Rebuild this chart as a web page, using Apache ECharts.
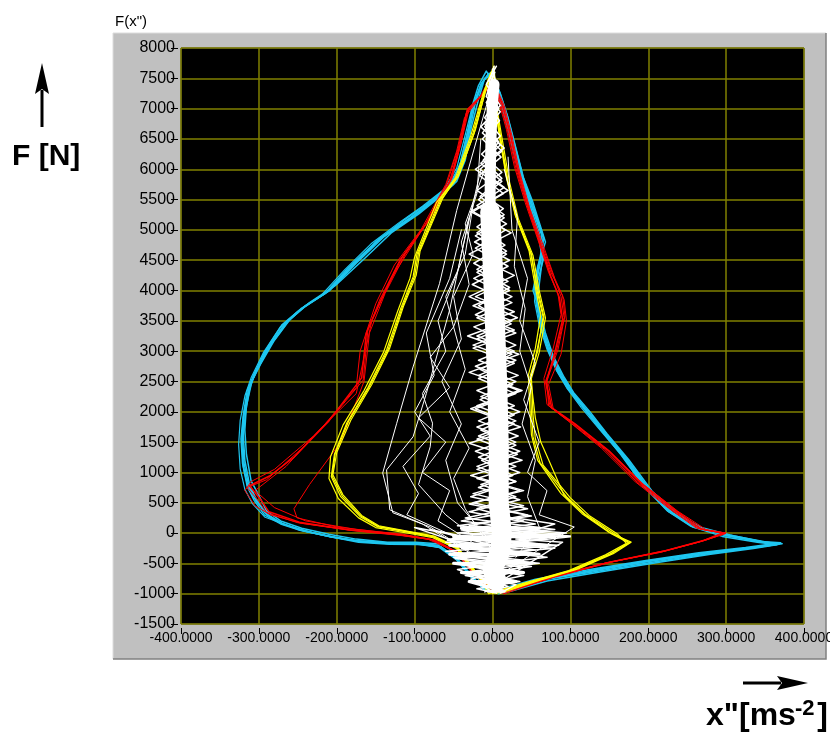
<!DOCTYPE html>
<html><head><meta charset="utf-8">
<script src="https://cdn.jsdelivr.net/npm/echarts@6.0.0/dist/echarts.min.js"></script>
<style>html,body{margin:0;padding:0;background:#fff;overflow:hidden;}#c{width:830px;height:735px;}</style>
</head><body><div id="c"></div>
<script>
// Axis ranges
const X_MIN = -400, X_MAX = 400, X_STEP = 100;
const Y_MIN = -1500, Y_MAX = 8000, Y_STEP = 500;
const titleY = 'F(x")';
const labelY = 'F [N]';
const labelXMain = 'x"[ms', labelXSup = '-2', labelXEnd = ']';

// Cyan traces [x, F]
const cyan1 = [[5,-980],[60,-780],[130,-620],[200,-470],[270,-340],[330,-250],[372,-175],[350,-150],[300,-40],[262,100],[232,330],[200,720],[170,1250],[142,1680],[120,2030],[100,2350],[88,2600],[74,2950],[64,3350],[58,3750],[55,4050],[62,4500],[65,4880],[48,5490],[38,5900],[28,6400],[18,6900],[8,7300],[-2,7600],[-12,7450],[-22,7100],[-30,6600],[-38,6100],[-50,5750],[-75,5480],[-102,5210],[-140,4880],[-175,4450],[-209,4000],[-240,3750],[-262,3500],[-285,3100],[-302,2700],[-311,2450],[-317,2000],[-320,1600],[-318,1200],[-312,800],[-305,600],[-292,330],[-275,180],[-250,60],[-215,-40],[-180,-120],[-140,-160],[-100,-165],[-70,-200],[-48,-380],[-30,-650],[-12,-920],[5,-980]];
const cyan2 = [[15,-990],[70,-790],[140,-640],[210,-490],[280,-350],[335,-255],[365,-195],[340,-150],[295,-55],[255,110],[225,360],[195,760],[165,1290],[138,1720],[117,2060],[97,2380],[84,2650],[72,3000],[62,3400],[56,3800],[58,4150],[66,4550],[60,4950],[45,5530],[35,5950],[25,6450],[15,6950],[6,7350],[-5,7580],[-15,7400],[-25,7000],[-33,6550],[-42,6050],[-58,5700],[-85,5420],[-115,5150],[-150,4800],[-185,4380],[-215,3950],[-245,3700],[-268,3430],[-290,3020],[-306,2600],[-314,2300],[-320,1900],[-322,1500],[-320,1100],[-314,760],[-303,520],[-288,290],[-268,140],[-240,30],[-205,-70],[-170,-140],[-130,-175],[-95,-180],[-68,-240],[-45,-450],[-28,-720],[-8,-950],[15,-990]];
const cyan3 = [[0,-960],[55,-760],[125,-600],[195,-455],[265,-325],[325,-240],[370,-160],[345,-140],[305,-30],[268,90],[238,310],[205,690],[175,1210],[147,1640],[125,2000],[104,2320],[92,2570],[78,2920],[68,3300],[60,3700],[52,4000],[58,4400],[68,4800],[52,5450],[40,5850],[30,6350],[20,6850],[10,7250],[0,7550],[-10,7500],[-18,7150],[-27,6700],[-35,6150],[-46,5800],[-68,5540],[-95,5260],[-130,4950],[-165,4520],[-202,4080],[-235,3800],[-258,3560],[-280,3180],[-298,2780],[-309,2500],[-316,2100],[-318,1700],[-316,1300],[-310,860],[-300,620],[-290,360],[-272,200],[-245,80],[-210,-20],[-175,-100],[-135,-150],[-98,-150],[-66,-180],[-44,-350],[-26,-620],[-10,-900],[0,-960]];
const cyan4 = [[8,-1000],[65,-770],[135,-630],[205,-480],[275,-345],[330,-245],[368,-185],[358,-165],[310,-50],[258,95],[228,345],[198,740],[168,1270],[140,1700],[118,2045],[98,2365],[86,2620],[73,2980],[63,3380],[57,3780],[60,4100],[64,4520],[63,4920],[47,5510],[37,5920],[27,6420],[17,6920],[7,7320],[-8,7620],[-18,7380],[-26,7050],[-31,6580],[-40,6080],[-55,5720],[-80,5450],[-108,5180],[-145,4840],[-180,4420],[-212,3980],[-242,3720],[-265,3470],[-288,3060],[-304,2650],[-313,2380],[-319,1950],[-321,1550],[-319,1150],[-313,780],[-304,560],[-290,310],[-270,160],[-245,45],[-210,-55],[-172,-130],[-132,-165],[-97,-172],[-67,-220],[-46,-420],[-29,-690],[-10,-940],[8,-1000]];
const cyan5 = [[3,-985],[62,-775],[128,-612],[198,-462],[268,-332],[328,-246],[370,-170],[352,-158],[302,-45],[260,105],[230,340],[202,705],[172,1230],[145,1660],[122,2015],[102,2335],[90,2585],[76,2935],[66,3320],[59,3730],[54,4030],[60,4480],[66,4860],[50,5470],[39,5880],[29,6380],[19,6880],[9,7280],[-4,7580],[-14,7420],[-24,7080],[-32,6620],[-41,6120],[-53,5740],[-78,5460],[-106,5190],[-146,4850],[-180,4400],[-214,3960],[-246,3700],[-270,3440],[-292,3000],[-307,2600],[-315,2350],[-320,1950],[-323,1550],[-321,1150],[-315,770],[-306,540],[-293,300],[-272,150],[-246,40],[-208,-60],[-172,-150],[-132,-185],[-96,-190],[-66,-230],[-47,-430],[-29,-700],[-9,-945],[3,-985]];
const cyan6 = [[12,-975],[66,-765],[133,-605],[203,-458],[272,-328],[332,-238],[366,-178],[344,-146],[298,-35],[258,115],[226,350],[196,750],[166,1280],[136,1730],[114,2070],[95,2400],[82,2680],[70,3030],[60,3430],[54,3820],[56,4180],[63,4580],[58,4980],[43,5560],[33,5980],[23,6480],[13,6980],[4,7380],[-6,7560],[-16,7360],[-27,6980],[-36,6520],[-46,6020],[-62,5670],[-90,5390],[-120,5120],[-156,4770],[-190,4340],[-220,3920],[-250,3660],[-273,3390],[-294,2980],[-310,2560],[-318,2260],[-324,1860],[-326,1460],[-324,1060],[-318,720],[-308,480],[-292,260],[-262,120],[-232,10],[-198,-85],[-164,-150],[-124,-182],[-90,-188],[-64,-250],[-43,-470],[-26,-740],[-6,-960],[12,-975]];

// Red traces
const red1 = [[10,-990],[80,-720],[147,-490],[220,-300],[270,-130],[298,-10],[270,60],[232,384],[189,821],[147,1365],[103,1812],[74,2081],[68,2500],[82,3000],[92,3550],[88,3900],[78,4250],[62,4800],[45,5400],[32,6000],[22,6600],[12,7080],[0,7450],[-15,7200],[-33,6970],[-42,6400],[-55,5800],[-85,5100],[-119,4504],[-145,3842],[-160,3350],[-166,2524],[-200,2000],[-240,1450],[-290,880],[-315,750],[-300,520],[-290,335],[-250,170],[-183,50],[-120,-30],[-77,-110],[-45,-320],[-22,-700],[10,-990]];
const red2 = [[0,-970],[70,-740],[140,-510],[215,-320],[265,-150],[295,5],[262,80],[226,410],[183,850],[140,1400],[98,1840],[70,2120],[66,2550],[78,3050],[88,3600],[84,3950],[72,4300],[58,4850],[42,5450],[28,6050],[18,6650],[8,7120],[-3,7500],[-18,7150],[-36,6850],[-46,6300],[-60,5750],[-92,5000],[-126,4420],[-150,3780],[-170,3000],[-175,2400],[-215,1800],[-265,1100],[-305,700],[-280,420],[-240,200],[-175,60],[-115,-20],[-72,-120],[-42,-340],[-20,-720],[0,-970]];
const red3 = [[15,-1000],[85,-700],[155,-470],[225,-280],[275,-110],[300,0],[275,50],[238,360],[195,790],[152,1330],[108,1780],[78,2050],[72,2450],[88,2950],[95,3500],[92,3850],[80,4200],[65,4750],[48,5350],[35,5950],[25,6550],[15,7050],[3,7400],[-12,7250],[-30,7000],[-40,6450],[-52,5850],[-80,5200],[-112,4600],[-138,3950],[-158,3300],[-165,2500],[-195,1500],[-235,800],[-255,400],[-251,250],[-200,100],[-140,10],[-85,-90],[-48,-300],[-24,-680],[15,-1000]];
const red4 = [[5,-980],[75,-730],[143,-500],[218,-310],[268,-140],[297,-5],[265,70],[229,395],[186,835],[144,1380],[100,1825],[72,2100],[70,2520],[84,3020],[93,3580],[90,3920],[76,4270],[60,4820],[44,5420],[30,6020],[20,6620],[10,7090],[-2,7430],[-16,7180],[-34,6920],[-44,6350],[-58,5780],[-88,5050],[-130,4200],[-155,3500],[-175,2300],[-230,1600],[-280,1050],[-310,850],[-318,700],[-305,450],[-285,300],[-245,160],[-180,40],[-118,-40],[-75,-115],[-44,-330],[-21,-710],[5,-980]];
const red5 = [[12,-985],[82,-715],[150,-480],[222,-290],[272,-120],[299,-5],[268,65],[235,375],[192,810],[150,1350],[106,1800],[76,2070],[69,2480],[80,2980],[90,3520],[86,3880],[75,4230],[61,4780],[46,5380],[33,5980],[23,6580],[13,7060],[1,7420],[-14,7220],[-32,6990],[-41,6420],[-54,5820],[-84,5120],[-117,4530],[-142,3880],[-162,3300],[-168,2560],[-210,1850],[-255,1250],[-285,950],[-312,780],[-297,540],[-287,350],[-248,180],[-185,55],[-122,-25],[-79,-105],[-46,-310],[-23,-690],[12,-985]];

// Yellow traces
const yellow1 = [[0,-1000],[50,-800],[103,-605],[150,-350],[176,-160],[155,0],[120,300],[95,600],[61,1160],[52,1590],[50,2000],[48,2577],[58,3000],[65,3566],[57,4006],[50,4600],[31,5213],[20,5800],[12,6400],[5,7000],[0,7650],[-10,7300],[-25,6600],[-45,5900],[-68,5490],[-97,4600],[-102,4225],[-118,3700],[-136,3020],[-160,2400],[-187,1820],[-203,1300],[-207,930],[-195,600],[-170,270],[-148,107],[-110,20],[-77,-60],[-45,-250],[-25,-600],[0,-1000]];
const yellow2 = [[10,-990],[60,-780],[110,-590],[155,-340],[178,-150],[150,10],[115,320],[88,650],[58,1200],[50,1620],[48,2050],[46,2600],[55,3050],[62,3600],[55,4050],[47,4650],[29,5250],[18,5850],[10,6450],[3,7050],[-2,7600],[-12,7250],[-28,6550],[-48,5850],[-72,5450],[-100,4550],[-106,4200],[-122,3650],[-140,2980],[-165,2350],[-192,1780],[-208,1260],[-210,900],[-198,570],[-172,250],[-150,90],[-112,5],[-78,-70],[-46,-260],[-26,-610],[10,-990]];
const yellow3 = [[-5,-1000],[45,-810],[98,-620],[145,-360],[172,-170],[160,-10],[125,280],[100,580],[65,1120],[55,1560],[52,1950],[50,2550],[60,2980],[68,3550],[60,4000],[52,4580],[33,5190],[22,5780],[14,6380],[6,6980],[2,7700],[-8,7350],[-22,6650],[-42,5950],[-64,5520],[-93,4650],[-98,4250],[-114,3750],[-132,3050],[-155,2450],[-182,1860],[-200,1330],[-205,960],[-192,630],[-168,290],[-146,120],[-108,30],[-75,-50],[-44,-240],[-24,-590],[-5,-1000]];
const yellow4 = [[5,-995],[55,-790],[106,-600],[152,-345],[175,-165],[152,-5],[118,310],[92,620],[74,1150],[62,1500],[55,1900],[49,2560],[57,3010],[66,3560],[58,4020],[49,4620],[30,5220],[19,5820],[11,6420],[4,7020],[1,7620],[-9,7280],[-24,6580],[-44,5880],[-66,5500],[-95,4620],[-100,4240],[-116,3720],[-134,3030],[-158,2420],[-185,1840],[-202,1310],[-206,940],[-193,610],[-169,280],[-147,110],[-109,25],[-76,-55],[-45,-245],[-25,-605],[5,-995]];

// White traces: dense central column
const whiteCore = [[5,-780],[0,-600],[10,-300],[12,0],[8,500],[8,1500],[6,2500],[3,3500],[0,4500],[-3,5300]];
const whiteCoreTop = [[-3,5000],[-3,5800],[-2,6500],[0,7100],[2,7400]];
const whiteBlob = [[-5,-960],[15,-960],[-30,-800],[30,-800],[-40,-650],[40,-650],[-50,-500],[50,-500],[-55,-350],[60,-350],[-55,-200],[70,-200],[-50,-60],[80,-60],[-40,80],[60,80]];
const white1 = [[0,-980],[-20,-800],[25,-650],[-40,-500],[45,-350],[-55,-200],[70,-100],[-40,50],[40,200],[-20,400],[30,600],[-15,800],[35,1000],[-18,1250],[30,1500],[-20,1750],[35,2000],[-15,2250],[30,2500],[-22,2750],[28,3000],[-20,3250],[25,3500],[-25,3750],[22,4000],[-20,4300],[18,4600],[-22,4900],[15,5200],[-18,5500],[12,5800],[-15,6100],[10,6400],[-10,6700],[8,7000],[-6,7300],[3,7600]];
const white2 = [[10,-990],[30,-850],[-35,-700],[50,-550],[-50,-400],[80,-250],[-60,-150],[95,0],[-30,120],[45,300],[-25,500],[35,700],[-20,900],[30,1100],[-22,1350],[33,1600],[-18,1850],[28,2100],[-20,2350],[33,2600],[-18,2850],[30,3100],[-24,3400],[28,3650],[-22,3900],[20,4150],[-24,4450],[16,4750],[-20,5050],[14,5350],[-20,5650],[12,5950],[-14,6250],[10,6550],[-10,6850],[6,7150],[-4,7450],[2,7700]];
const white3 = [[-10,-970],[20,-880],[-45,-600],[40,-450],[-60,-300],[60,-180],[-50,-50],[80,60],[-35,250],[40,450],[-25,650],[30,850],[-20,1050],[32,1300],[-20,1550],[28,1800],[-22,2050],[30,2300],[-18,2550],[28,2800],[-25,3050],[30,3300],[-20,3550],[25,3800],[-26,4100],[20,4400],[-22,4700],[17,5000],[-25,5300],[14,5600],[-17,5900],[11,6200],[-13,6500],[9,6800],[-8,7100],[5,7400],[0,7650]];
const white4 = [[2,7600],[-8,7200],[10,6950],[-13,6600],[12,6300],[-16,6000],[15,5700],[-20,5400],[18,5100],[-23,4800],[22,4500],[-24,4200],[25,3900],[-22,3600],[28,3350],[-25,3100],[30,2850],[-18,2600],[34,2350],[-20,2100],[30,1850],[-18,1600],[35,1350],[-20,1100],[30,850],[-28,600],[45,400],[-40,200],[70,30],[-55,-100],[85,-200],[-55,-350],[60,-500],[-40,-650],[35,-800],[-20,-920],[5,-990]];
const white5 = [[0,7500],[-5,7300],[6,7000],[-10,6750],[8,6450],[-12,6150],[12,5850],[-16,5550],[15,5250],[-20,4950],[18,4650],[-20,4350],[22,4050],[-18,3750],[24,3450],[-20,3200],[25,2950],[-16,2700],[26,2450],[-16,2200],[28,1950],[-15,1700],[30,1450],[-14,1200],[26,950],[-18,750],[35,550],[-30,350],[55,150],[-45,0],[100,-60],[-40,-250],[70,-400],[-30,-550],[40,-700],[-15,-850],[15,-960]];
const white6 = [[5,-940],[-28,-760],[38,-560],[-48,-420],[55,-280],[-58,-120],[88,-20],[-45,120],[50,280],[-30,480],[40,700],[-28,950],[38,1200],[-30,1480],[36,1750],[-28,2050],[38,2350],[-30,2650],[34,2950],[-32,3250],[32,3550],[-30,3900],[28,4250],[-30,4600],[24,4950],[-28,5300],[20,5650],[-22,6000],[15,6350],[-15,6700],[10,7050],[-8,7400],[5,7700]];
// White sparse outer traces
const whiteOut1 = [[-30,-300],[-80,100],[-128,335],[-141,990],[-123,1810],[-102,2740],[-68,4116],[-46,5320],[-20,6500],[0,7400]];
const whiteOut2 = [[-20,-400],[-90,150],[-132,384],[-136,1042],[-102,1588],[-85,2300],[-55,3681],[-40,4600],[-15,6000]];
const whiteOut3 = [[-10,-200],[-60,300],[-95,800],[-80,1423],[-77,1812],[-90,2300],[-60,3000],[-70,3500],[-45,4300],[-30,5200]];
const whiteOut4 = [[-5,-100],[-45,500],[-60,1200],[-40,1800],[-65,2500],[-40,3200],[-50,3900],[-25,4600],[-35,5100],[-10,6000]];
const whiteOut5 = [[20,-600],[105,100],[60,300],[70,700],[45,1000],[60,1500],[40,2200],[55,2800],[35,3500],[45,4200],[25,5000],[20,6200]];
const whiteOut6 = [[10,-800],[90,-150],[30,-100],[100,-50],[40,0],[80,150],[30,250]];
const whiteOut7 = [[-50,-50],[-110,300],[-95,650],[-115,1100],[-80,1600],[-100,2000],[-75,2600],[-85,3300],[-55,4200],[-40,5000]];
const whiteOut8 = [[-10,-300],[-100,90],[-20,-100],[-80,60],[0,-200]];
const whiteOut9 = [[-20,-200],[-70,200],[-55,700],[-90,1000],[-60,1500],[-95,1900],[-55,2400],[-80,2900],[-50,3400],[-60,3900],[-35,4600],[-25,5400]];
const whiteOut10 = [[0,-300],[-35,400],[-50,900],[-30,1400],[-55,2000],[-35,2700],[-50,3400],[-30,4100],[-40,4800],[-20,5600],[-15,6500]];
const whiteOut11 = [[30,-400],[60,100],[45,600],[55,1200],[38,1800],[50,2400],[35,3000],[42,3700],[28,4400],[32,5200],[15,6000]];

const chart = echarts.init(document.getElementById('c'), null, {renderer: 'canvas'});
const mk = (data, color, width) => ({
  type: 'line', data: data, showSymbol: false, symbol: 'none', silent: true,
  animation: false, clip: true, lineStyle: {color: color, width: width, cap: 'round', join: 'round'}
});
const CYAN = '#1ec6f0', RED = '#ff0000', YEL = '#ffff00', WHT = '#ffffff';
const series = [
  mk(cyan1, CYAN, 1.5), mk(cyan2, CYAN, 1.5), mk(cyan3, CYAN, 1.5), mk(cyan4, CYAN, 1.5), mk(cyan5, CYAN, 1.5), mk(cyan6, CYAN, 1.2),
  mk(red1, RED, 1), mk(red2, RED, 1), mk(red3, RED, 1), mk(red4, RED, 1), mk(red5, RED, 1.5),
  mk(yellow1, YEL, 1.2), mk(yellow2, YEL, 1.2), mk(yellow3, YEL, 1.2), mk(yellow4, YEL, 1.2),
  mk(whiteOut1, WHT, 1), mk(whiteOut2, WHT, 1), mk(whiteOut3, WHT, 1), mk(whiteOut4, WHT, 1),
  mk(whiteOut5, WHT, 1), mk(whiteOut6, WHT, 1.5), mk(whiteOut7, WHT, 1), mk(whiteOut8, WHT, 1.5),
  mk(whiteOut9, WHT, 1), mk(whiteOut10, WHT, 1), mk(whiteOut11, WHT, 1),
  mk(white1, WHT, 1.5), mk(white2, WHT, 1.5), mk(white3, WHT, 1.5), mk(white4, WHT, 1.5), mk(white5, WHT, 1.5), mk(white6, WHT, 1.5),
  mk(whiteBlob, WHT, 3), mk(whiteCore, WHT, 20), mk(whiteCoreTop, WHT, 11)
];
const FONT = '"Liberation Sans", Arial, sans-serif';
chart.setOption({
  animation: false,
  backgroundColor: '#ffffff',
  grid: {left: 181, right: 26, top: 48, bottom: 111, outerBoundsMode: 'none', containLabel: false,
         show: true, backgroundColor: '#000000', borderColor: '#404040', borderWidth: 1},
  xAxis: {
    type: 'value', min: X_MIN, max: X_MAX, interval: X_STEP, offset: 4,
    axisLine: {show: false, onZero: false},
    axisTick: {show: true, length: 6, lineStyle: {color: '#000', width: 1}},
    axisLabel: {color: '#000', fontSize: 14, fontFamily: FONT, margin: 3, hideOverlap: false, formatter: v => v.toFixed(4)},
    splitLine: {show: true, lineStyle: {color: '#808000', width: 1.5}}
  },
  yAxis: {
    type: 'value', min: Y_MIN, max: Y_MAX, interval: Y_STEP, offset: 3,
    axisLine: {show: false, onZero: false},
    axisTick: {show: true, length: 7, lineStyle: {color: '#000', width: 1}},
    axisLabel: {color: '#000', fontSize: 16, fontFamily: FONT, margin: 3, formatter: v => String(v)},
    splitLine: {show: true, lineStyle: {color: '#808000', width: 1.5}}
  },
  graphic: {elements: [
    {type: 'rect', z: -10, shape: {x: 113, y: 33, width: 713, height: 626}, style: {fill: '#c0c0c0'}},
    {type: 'polyline', z: -9, shape: {points: [[113, 659], [113, 33], [826, 33]]}, style: {stroke: '#dcdcdc', lineWidth: 1, fill: null}},
    {type: 'polyline', z: -9, shape: {points: [[113, 659], [826, 659], [826, 33]]}, style: {stroke: '#808080', lineWidth: 1.5, fill: null}},
    {type: 'text', z: 100, style: {text: titleY, x: 115, y: 14, align: 'left', verticalAlign: 'top', font: '15px ' + FONT, fill: '#000'}},
    {type: 'text', z: 100, style: {text: labelY, x: 12, y: 142, align: 'left', verticalAlign: 'top', font: 'bold 30px ' + FONT, fill: '#000'}},
    {type: 'rect', z: 100, shape: {x: 40.5, y: 90, width: 3, height: 37}, style: {fill: '#000'}},
    {type: 'polygon', z: 100, shape: {points: [[42, 63], [35, 94], [42, 89], [49, 94]]}, style: {fill: '#000'}},
    {type: 'rect', z: 100, shape: {x: 743, y: 681.5, width: 38, height: 3}, style: {fill: '#000'}},
    {type: 'polygon', z: 100, shape: {points: [[808, 683], [777, 676], [782, 683], [777, 690]]}, style: {fill: '#000'}},
    {type: 'text', z: 100, style: {text: labelXMain, x: 706, y: 700, align: 'left', verticalAlign: 'top', font: 'bold 32px ' + FONT, fill: '#000'}},
    {type: 'text', z: 100, style: {text: labelXSup, x: 795, y: 698, align: 'left', verticalAlign: 'top', font: 'bold 22px ' + FONT, fill: '#000'}},
    {type: 'text', z: 100, style: {text: labelXEnd, x: 828, y: 700, align: 'right', verticalAlign: 'top', font: 'bold 32px ' + FONT, fill: '#000'}}
  ]},
  series: series
});
</script></body></html>
